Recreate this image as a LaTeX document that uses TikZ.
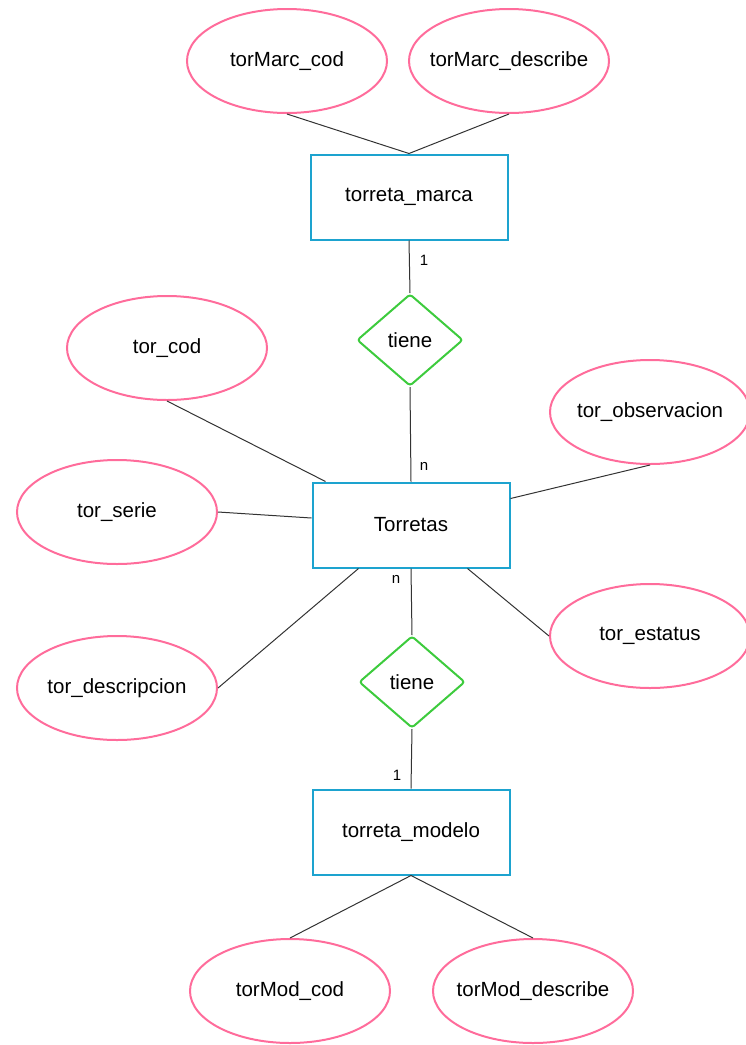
\documentclass[tikz,border=0pt]{standalone}
\usepackage{fontspec}
\setmainfont{Liberation Sans}
\usetikzlibrary{shapes.geometric,calc}
\definecolor{Rosa}{HTML}{FF6C9B}
\definecolor{Azul}{HTML}{1DA3CF}
\definecolor{Verde}{HTML}{3DCB3D}
\definecolor{Linea}{HTML}{333333}

\begin{document}
\begin{tikzpicture}[x=1pt,y=-1pt,
    attr/.style={ellipse,draw=Rosa,line width=2pt,minimum width=200pt,minimum height=104pt,inner xsep=-30pt,inner ysep=0pt,font=\fontsize{20.5}{24}\selectfont},
    entity/.style={rectangle,draw=Azul,line width=2pt,minimum width=197pt,minimum height=85pt,font=\fontsize{20.5}{24}\selectfont},
    rel/.style={diamond,draw=Verde,line width=2pt,minimum width=106pt,minimum height=92pt,inner sep=0pt,rounded corners=3pt,font=\fontsize{20.5}{24}\selectfont},
    link/.style={draw=Linea,line width=1pt},
    card/.style={font=\fontsize{15}{17}\selectfont,inner sep=0pt}]
    \useasboundingbox (0,0) rectangle (746,1045);
    % entidades
    \node[entity] (marca) at (409,197) {torreta\_marca};
    \node[entity] (tor) at (411,525) {Torretas};
    \node[entity] (modelo) at (411,832) {torreta\_modelo};
    % relaciones
    \node[rel] (tiene1) at (410,340) {tiene};
    \node[rel] (tiene2) at (412,682) {tiene};
    % atributos
    \node[attr] (mcod) at (287,61) {torMarc\_cod};
    \node[attr] (mdes) at (509,61) {torMarc\_describe};
    \node[attr] (tcod) at (167,348) {tor\_cod};
    \node[attr] (tobs) at (650,412) {tor\_observacion};
    \node[attr] (tser) at (117,512) {tor\_serie};
    \node[attr] (test) at (650,636) {tor\_estatus};
    \node[attr] (tdes) at (117,688) {tor\_descripcion};
    \node[attr] (ocod) at (290,991) {torMod\_cod};
    \node[attr] (odes) at (533,991) {torMod\_describe};
    % puntos de union en Torretas
    \coordinate (pcod) at ($(tor.north west)+(14,0)$);
    \coordinate (pser) at ($(tor.west)+(0,-7)$);
    \coordinate (pobs) at ($(tor.north east)+(0,17)$);
    \coordinate (pdes) at ($(tor.south west)+(47,0)$);
    \coordinate (pest) at ($(tor.south east)+(-43,0)$);
    % conexiones
    \draw[link] (mcod.south) -- (marca.north) -- (mdes.south);
    \draw[link] (marca.south) -- (tiene1.north);
    \draw[link] (tiene1.south) -- (tor.north);
    \draw[link] (tor.south) -- (tiene2.north);
    \draw[link] (tiene2.south) -- (modelo.north);
    \draw[link] (ocod.north) -- (modelo.south) -- (odes.north);
    \draw[link] (tcod.south) -- (pcod);
    \draw[link] (tser.east) -- (pser);
    \draw[link] (tobs.south) -- (pobs);
    \draw[link] (tdes.east) -- (pdes);
    \draw[link] (test.west) -- (pest);
    % cardinalidades
    \node[card] (c1) at (424,260) {1};
    \node[card] (c2) at (424,466) {n};
    \node[card] (c3) at (396,579) {n};
    \node[card] (c4) at (397,775) {1};
\end{tikzpicture}
\end{document}
